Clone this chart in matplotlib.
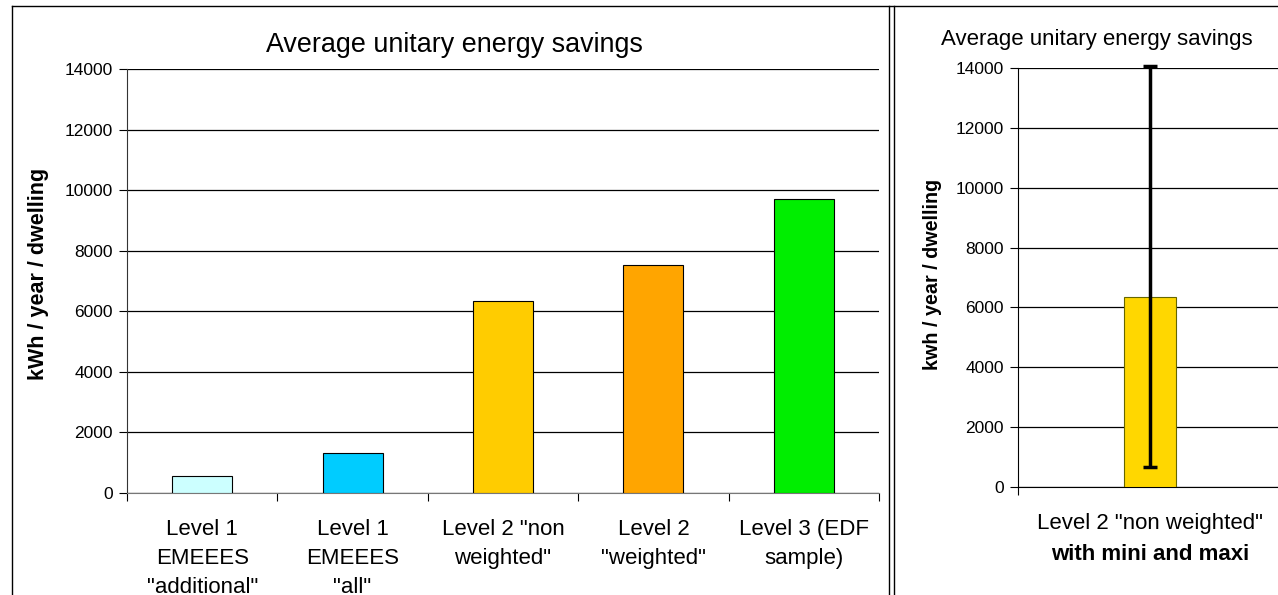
import numpy as np
import matplotlib.pyplot as plt
from matplotlib.lines import Line2D

plt.rcParams['font.family'] = ['Liberation Sans', 'DejaVu Sans']

categories = ['Level 1\nEMEEES\n"additional"', 'Level 1\nEMEEES\n"all"',
              'Level 2 "non\nweighted"', 'Level 2\n"weighted"', 'Level 3 (EDF\nsample)']
savings = [560, 1330, 6350, 7530, 9720]
colors = ['#ccffff', '#00ccff', '#ffcc00', '#ffa500', '#00ee00']
yticks = [0, 2000, 4000, 6000, 8000, 10000, 12000, 14000]

nw_mean = 6350
nw_min = 670
nw_max = 14080

W, H = 1278, 595
fig = plt.figure(figsize=(W / 100, H / 100), dpi=100)

def px(x0, y0, x1, y1):
    return [x0 / W, 1 - y1 / H, (x1 - x0) / W, (y1 - y0) / H]

# left chart
ax = fig.add_axes(px(127, 69, 879, 493))
x = np.arange(len(savings))
ax.bar(x, savings, width=0.4, color=colors, edgecolor='black', linewidth=0.8, zorder=3)
ax.set_xlim(-0.5, len(savings) - 0.5)
ax.set_ylim(0, 14000)
ax.set_yticks(yticks)
ax.tick_params(axis='y', labelsize=12.5, length=6, direction='out', pad=4)
ax.set_xticks(np.arange(len(savings) + 1) - 0.5)
ax.set_xticklabels([])
ax.set_xticks(x, minor=True)
ax.set_xticklabels(categories, minor=True, fontsize=16, linespacing=1.5)
ax.tick_params(axis='x', which='major', length=6)
ax.tick_params(axis='x', which='minor', length=0, pad=19)
ax.grid(axis='y', color='black', linewidth=0.9, zorder=0)
for s in ['top', 'right']:
    ax.spines[s].set_visible(False)
ax.spines['left'].set_color('#333333')
ax.spines['bottom'].set_color('#777777')
fig.text(39 / W, 1 - 274 / H, 'kWh / year / dwelling', fontsize=15.5, fontweight='bold',
         rotation=90, ha='center', va='center')
fig.text(454 / W, 1 - 45 / H, 'Average unitary energy savings', fontsize=19.4,
         ha='center', va='center')

# right chart
ax2 = fig.add_axes(px(1018, 68, 1282, 487))
ax2.bar([0], [nw_mean], width=0.2, color='#ffd700', edgecolor='#666600', linewidth=0.8, zorder=3)
ax2.errorbar([0], [nw_mean], yerr=[[nw_mean - nw_min], [nw_max - nw_mean]],
             fmt='none', ecolor='black', elinewidth=2.5, capsize=5, capthick=2.5,
             zorder=4, clip_on=False)
ax2.set_xlim(-0.5, 0.5)
ax2.set_ylim(0, 14000)
ax2.set_yticks(yticks)
ax2.tick_params(axis='y', labelsize=12.5, length=6, pad=4)
ax2.set_xticks([-0.5])
ax2.set_xticklabels([])
ax2.tick_params(axis='x', length=6)
ax2.grid(axis='y', color='black', linewidth=0.9, zorder=0)
for s in ['top', 'right']:
    ax2.spines[s].set_visible(False)
fig.text(932 / W, 1 - 274 / H, 'kwh / year / dwelling', fontsize=14.2, fontweight='bold',
         rotation=90, ha='center', va='center')
fig.text(1097 / W, 1 - 40 / H, 'Average unitary energy savings', fontsize=16,
         ha='center', va='center')
fig.text(1150 / W, 1 - 523 / H, 'Level 2 "non weighted"', ha='center', va='center',
         fontsize=16)
fig.text(1150 / W, 1 - 555 / H, 'with mini and maxi', ha='center', va='center',
         fontsize=16, fontweight='bold')

# panel frames
def fline(xs, ys, **kw):
    fig.add_artist(Line2D([v / W for v in xs], [1 - v / H for v in ys],
                          color='black', linewidth=1, **kw))

fline([12, 12], [6, 595])
fline([12, 1278], [6, 6])
fline([889, 889], [6, 595])
fline([894, 894], [6, 595])

fig.savefig('out.png', dpi=100)
